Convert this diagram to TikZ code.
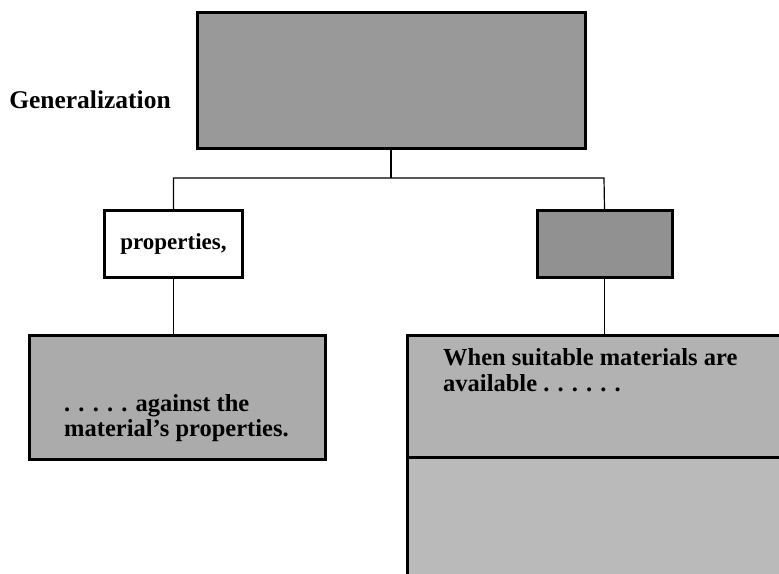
\documentclass[tikz,border=0pt]{standalone}
\usepackage{fontspec}
\setmainfont{Liberation Serif}
\begin{document}
\begin{tikzpicture}[x=1pt,y=-1pt,
  box/.style={draw=black,line width=3pt,inner sep=0pt,font=\fontsize{23}{25}\selectfont\bfseries},
  link/.style={draw=black,line width=1.2pt},
  lbl/.style={inner sep=0pt,font=\fontsize{24.5}{25.5}\selectfont\bfseries,align=left}]
\useasboundingbox (0,0) rectangle (779,573);
\clip (0,0) rectangle (779,573);
\fill[white] (0,0) rectangle (779,573);
% boxes
\node[box,fill=black!40,minimum width=388pt,minimum height=136pt] (top) at (391,80) {};
\node[lbl,font=\fontsize{25.5}{27}\selectfont\bfseries] (gen) at (90,100) {Generalization};
\node[box,fill=white,minimum width=138pt,minimum height=67pt] (props) at (173.5,244) {properties,};
\node[box,fill=black!43,minimum width=135pt,minimum height=67pt] (rsmall) at (604.5,244) {};
\node[box,fill=black!33,minimum width=296pt,minimum height=124pt] (lb) at (177,397) {};
\node[lbl,anchor=west] (lbt) at (64,418) {. . . . . against the\\material's properties.};
\node[box,fill=black!30,minimum width=393pt,minimum height=122pt] (rb1) at (603.5,396) {};
\node[box,fill=black!27,minimum width=393pt,minimum height=143pt] (rb2) at (603.5,528.5) {};
\node[lbl,anchor=west] (rbt) at (443,370) {When suitable materials are\\available . . . . . .};
% connectors
\coordinate (jl) at (173,178);
\coordinate (jr) at (604,178);
\draw[link] (top.south) -- (top.south |- jl);
\draw[link] (props.north) |- (jr) -- (rsmall.north);
\draw[link] (props.south) -- (props.south |- lb.north);
\draw[link] (rsmall.south) -- (rsmall.south |- rb1.north);
\end{tikzpicture}
\end{document}
